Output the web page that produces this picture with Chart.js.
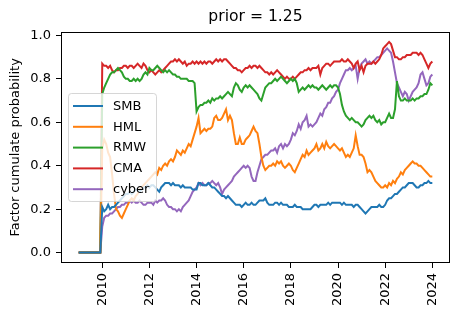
<!DOCTYPE html>
<html><head><meta charset="utf-8">
<script src="https://cdn.jsdelivr.net/npm/chart.js@4"></script>
<style>html,body{margin:0;padding:0;background:#fff}canvas{display:block}</style>
</head><body>
<canvas id="c" width="458" height="318"></canvas>
<script>
const titleText = 'prior = 1.25';
const yLabel = 'Factor cumulate probability';
const seriesNames = ['SMB', 'HML', 'RMW', 'CMA', 'cyber'];
const seriesColors = ['#1f77b4', '#ff7f0e', '#2ca02c', '#d62728', '#9467bd'];
const xTickYears = [2010, 2012, 2014, 2016, 2018, 2020, 2022, 2024];
const yTickValues = [0, 0.2, 0.4, 0.6, 0.8, 1.0];
const firstYear = 2009, lastYear = 2024, lastMonth = 1;

// monthly values 2009-01 .. 2024-01
const smb = [
 0,0,0,0,0,0,0,0,0,0,0,0,
 0.21,0.19,0.20,0.22,0.20,0.21,0.21,0.22,0.23,0.24,0.25,0.26,
 0.27,0.27,0.28,0.27,0.28,0.29,0.29,0.28,0.29,0.30,0.30,0.31,
 0.30,0.31,0.31,0.30,0.29,0.28,0.30,0.31,0.32,0.32,0.32,0.31,
 0.32,0.31,0.31,0.31,0.30,0.31,0.30,0.30,0.30,0.30,0.29,0.29,
 0.29,0.32,0.32,0.31,0.31,0.31,0.32,0.31,0.30,0.30,0.29,0.28,
 0.27,0.26,0.26,0.25,0.26,0.25,0.24,0.23,0.22,0.22,0.22,0.21,
 0.22,0.23,0.22,0.22,0.23,0.22,0.22,0.23,0.24,0.24,0.24,0.25,
 0.23,0.22,0.22,0.22,0.23,0.23,0.22,0.23,0.22,0.22,0.22,0.21,
 0.21,0.21,0.22,0.21,0.21,0.21,0.20,0.20,0.20,0.20,0.20,0.21,
 0.22,0.22,0.21,0.22,0.22,0.22,0.22,0.23,0.22,0.23,0.23,0.23,
 0.23,0.23,0.22,0.23,0.22,0.22,0.22,0.22,0.21,0.22,0.22,0.21,
 0.20,0.19,0.18,0.19,0.20,0.21,0.21,0.21,0.21,0.22,0.21,0.21,
 0.22,0.24,0.25,0.25,0.26,0.27,0.27,0.28,0.29,0.30,0.30,0.31,
 0.32,0.32,0.32,0.31,0.30,0.30,0.31,0.31,0.32,0.32,0.33,0.32,
 0.32
];
const hml = [
 0,0,0,0,0,0,0,0,0,0,0,0,
 0.48,0.52,0.50,0.46,0.44,0.36,0.27,0.20,0.19,0.17,0.16,0.18,
 0.20,0.22,0.24,0.25,0.24,0.26,0.27,0.29,0.30,0.31,0.32,0.33,
 0.34,0.35,0.36,0.37,0.36,0.39,0.38,0.40,0.41,0.40,0.42,0.43,
 0.42,0.44,0.47,0.46,0.45,0.47,0.46,0.48,0.50,0.49,0.52,0.55,
 0.58,0.62,0.55,0.56,0.57,0.56,0.57,0.57,0.58,0.62,0.63,0.61,
 0.61,0.62,0.64,0.66,0.61,0.63,0.61,0.55,0.50,0.50,0.53,0.50,
 0.50,0.52,0.53,0.54,0.56,0.58,0.56,0.55,0.50,0.44,0.40,0.38,
 0.39,0.40,0.40,0.41,0.40,0.42,0.41,0.42,0.40,0.39,0.40,0.41,
 0.40,0.38,0.37,0.39,0.41,0.43,0.45,0.44,0.47,0.45,0.46,0.47,
 0.48,0.50,0.47,0.48,0.50,0.48,0.51,0.49,0.48,0.49,0.50,0.49,
 0.48,0.47,0.48,0.46,0.44,0.45,0.44,0.46,0.48,0.54,0.49,0.45,
 0.45,0.44,0.41,0.37,0.38,0.37,0.35,0.33,0.32,0.31,0.30,0.30,
 0.31,0.30,0.32,0.31,0.33,0.32,0.34,0.35,0.37,0.36,0.38,0.39,
 0.40,0.41,0.42,0.41,0.41,0.40,0.40,0.39,0.38,0.37,0.36,0.35,
 0.35
];
const rmw = [
 0,0,0,0,0,0,0,0,0,0,0,0,
 0.73,0.76,0.78,0.80,0.82,0.83,0.83,0.84,0.85,0.84,0.83,0.81,
 0.80,0.80,0.79,0.79,0.80,0.79,0.80,0.79,0.80,0.82,0.83,0.82,
 0.85,0.84,0.84,0.85,0.86,0.85,0.84,0.83,0.84,0.83,0.84,0.83,
 0.82,0.82,0.81,0.81,0.80,0.80,0.80,0.80,0.79,0.79,0.79,0.78,
 0.65,0.67,0.68,0.68,0.69,0.69,0.70,0.69,0.71,0.70,0.71,0.71,
 0.72,0.71,0.72,0.73,0.74,0.73,0.72,0.76,0.78,0.77,0.75,0.74,
 0.76,0.77,0.76,0.77,0.76,0.75,0.74,0.73,0.71,0.70,0.73,0.76,
 0.77,0.78,0.78,0.79,0.80,0.79,0.80,0.81,0.80,0.79,0.78,0.79,
 0.80,0.79,0.80,0.78,0.74,0.75,0.76,0.75,0.76,0.77,0.76,0.77,
 0.76,0.76,0.75,0.76,0.77,0.76,0.75,0.76,0.77,0.76,0.77,0.77,
 0.76,0.73,0.68,0.65,0.63,0.62,0.61,0.62,0.61,0.60,0.60,0.59,
 0.58,0.59,0.61,0.62,0.63,0.62,0.63,0.61,0.60,0.61,0.59,0.60,
 0.60,0.62,0.64,0.62,0.62,0.66,0.79,0.72,0.70,0.70,0.71,0.70,
 0.70,0.70,0.71,0.70,0.71,0.71,0.72,0.72,0.73,0.73,0.75,0.78,
 0.77
];
const cma = [
 0,0,0,0,0,0,0,0,0,0,0,0,
 0.87,0.86,0.86,0.85,0.86,0.84,0.83,0.84,0.84,0.85,0.85,0.86,
 0.86,0.85,0.86,0.86,0.85,0.86,0.87,0.86,0.85,0.87,0.86,0.84,
 0.83,0.84,0.83,0.82,0.83,0.84,0.83,0.84,0.85,0.86,0.87,0.88,
 0.88,0.89,0.88,0.89,0.88,0.87,0.88,0.86,0.87,0.87,0.88,0.87,
 0.88,0.87,0.88,0.87,0.88,0.87,0.88,0.88,0.87,0.88,0.89,0.88,
 0.89,0.88,0.89,0.89,0.88,0.87,0.86,0.85,0.85,0.84,0.84,0.83,
 0.84,0.85,0.85,0.86,0.85,0.86,0.86,0.85,0.86,0.85,0.84,0.83,
 0.83,0.82,0.83,0.82,0.83,0.84,0.83,0.82,0.81,0.80,0.81,0.80,
 0.80,0.81,0.80,0.81,0.82,0.83,0.83,0.84,0.84,0.85,0.84,0.85,
 0.85,0.85,0.86,0.82,0.85,0.86,0.87,0.87,0.86,0.87,0.88,0.88,
 0.88,0.88,0.89,0.88,0.88,0.89,0.88,0.87,0.85,0.87,0.88,0.84,
 0.86,0.83,0.86,0.87,0.87,0.87,0.88,0.87,0.88,0.89,0.91,0.94,
 0.95,0.96,0.97,0.96,0.93,0.90,0.90,0.89,0.89,0.90,0.90,0.91,
 0.91,0.91,0.92,0.92,0.92,0.91,0.92,0.91,0.89,0.87,0.85,0.87,
 0.88
];
const cyber = [
 0,0,0,0,0,0,0,0,0,0,0,0,
 0.12,0.16,0.17,0.17,0.18,0.18,0.19,0.20,0.21,0.21,0.22,0.22,
 0.23,0.23,0.24,0.23,0.24,0.23,0.23,0.24,0.23,0.22,0.22,0.23,
 0.23,0.23,0.22,0.24,0.23,0.24,0.24,0.25,0.24,0.22,0.21,0.21,
 0.20,0.20,0.19,0.20,0.19,0.21,0.22,0.23,0.24,0.26,0.28,0.29,
 0.30,0.32,0.31,0.32,0.31,0.31,0.32,0.32,0.33,0.32,0.31,0.32,
 0.30,0.27,0.29,0.30,0.31,0.32,0.33,0.35,0.36,0.37,0.38,0.39,
 0.40,0.39,0.40,0.39,0.35,0.33,0.33,0.37,0.40,0.43,0.44,0.45,
 0.45,0.46,0.47,0.47,0.48,0.46,0.49,0.50,0.48,0.50,0.49,0.50,
 0.52,0.55,0.54,0.56,0.59,0.57,0.60,0.61,0.63,0.58,0.59,0.58,
 0.59,0.60,0.62,0.64,0.63,0.66,0.67,0.69,0.69,0.71,0.72,0.74,
 0.75,0.78,0.80,0.82,0.84,0.84,0.85,0.84,0.85,0.86,0.80,0.85,
 0.87,0.88,0.89,0.87,0.88,0.87,0.88,0.89,0.90,0.90,0.91,0.92,
 0.93,0.94,0.93,0.92,0.88,0.83,0.78,0.76,0.74,0.72,0.74,0.73,
 0.70,0.72,0.74,0.75,0.76,0.78,0.82,0.83,0.80,0.77,0.78,0.81,
 0.82
];
const seriesValues = [smb, hml, rmw, cma, cyber];

// month positions (decimal years)
const monthX = [];
for (let y = firstYear; y <= lastYear; y++) {
  for (let m = 1; m <= 12; m++) {
    if (y === lastYear && m > lastMonth) break;
    monthX.push(y + (m - 1) / 12);
  }
}

const FONT = 'DejaVu Sans';

const framePlugin = {
  id: 'frame',
  afterDatasetsDraw(chart) {
    const {ctx, chartArea: a} = chart;
    ctx.save();
    ctx.strokeStyle = '#000';
    ctx.lineWidth = 1;
    ctx.strokeRect(Math.round(a.left) + 0.5, Math.round(a.top) + 0.5,
                   Math.round(a.right - a.left) - 1, Math.round(a.bottom - a.top) - 1);
    ctx.restore();
  }
};

const legendPlugin = {
  id: 'boxLegend',
  afterDraw(chart) {
    const ctx = chart.ctx;
    const bx = 68.5, by = 93.5, bw = 88, bh = 108, r = 3;
    ctx.save();
    ctx.beginPath();
    ctx.moveTo(bx + r, by);
    ctx.lineTo(bx + bw - r, by);
    ctx.quadraticCurveTo(bx + bw, by, bx + bw, by + r);
    ctx.lineTo(bx + bw, by + bh - r);
    ctx.quadraticCurveTo(bx + bw, by + bh, bx + bw - r, by + bh);
    ctx.lineTo(bx + r, by + bh);
    ctx.quadraticCurveTo(bx, by + bh, bx, by + bh - r);
    ctx.lineTo(bx, by + r);
    ctx.quadraticCurveTo(bx, by, bx + r, by);
    ctx.closePath();
    ctx.fillStyle = 'rgba(255,255,255,0.8)';
    ctx.fill();
    ctx.strokeStyle = 'rgba(204,204,204,0.8)';
    ctx.lineWidth = 1;
    ctx.stroke();
    ctx.font = '13px "' + FONT + '"';
    ctx.textBaseline = 'middle';
    ctx.textAlign = 'left';
    chart.data.datasets.forEach((ds, i) => {
      const yy = 106 + i * 20.8;
      ctx.strokeStyle = ds.borderColor;
      ctx.lineWidth = 2;
      ctx.beginPath();
      ctx.moveTo(73, yy);
      ctx.lineTo(103, yy);
      ctx.stroke();
      ctx.fillStyle = '#000';
      ctx.fillText(ds.label, 113, yy + 0.5);
    });
    ctx.restore();
  }
};

new Chart(document.getElementById('c').getContext('2d'), {
  type: 'line',
  data: {
    datasets: seriesNames.map((name, i) => ({
      label: name,
      data: monthX.map((x, j) => ({x: x, y: seriesValues[i][j]})),
      borderColor: seriesColors[i],
      backgroundColor: seriesColors[i],
      borderWidth: 2,
      pointRadius: 0,
      fill: false,
      tension: 0
    }))
  },
  options: {
    responsive: false,
    animation: false,
    devicePixelRatio: 1,
    layout: {padding: {left: 0, right: 8, top: 0, bottom: 0}},
    plugins: {
      legend: {display: false},
      tooltip: {enabled: false},
      title: {
        display: true, text: titleText, color: '#000', fullSize: false,
        font: {family: FONT, size: 15.6, weight: 'normal'},
        padding: {top: 8, bottom: 5}
      }
    },
    scales: {
      x: {
        type: 'linear', min: 2008.25, max: 2024.75,
        afterBuildTicks: s => { s.ticks = xTickYears.map(v => ({value: v})); },
        afterFit: s => { s.height = 55; },
        ticks: {
          autoSkip: false, maxRotation: 90, minRotation: 90,
          callback: v => String(v), color: '#000', padding: 5,
          font: {family: FONT, size: 13}
        },
        grid: {drawOnChartArea: false, drawTicks: true, tickLength: 5, tickColor: '#000', tickWidth: 1},
        border: {display: false}
      },
      y: {
        min: -0.048, max: 1.017,
        afterBuildTicks: s => { s.ticks = yTickValues.map(v => ({value: v})); },
        afterFit: s => { s.width = 61; },
        ticks: {
          callback: v => Number(v).toFixed(1), color: '#000', padding: 5,
          font: {family: FONT, size: 13}
        },
        grid: {drawOnChartArea: false, drawTicks: true, tickLength: 5, tickColor: '#000', tickWidth: 1},
        border: {display: false},
        title: {
          display: true, text: yLabel, color: '#000',
          font: {family: FONT, size: 13},
          padding: {top: 8, bottom: 0}
        }
      }
    }
  },
  plugins: [framePlugin, legendPlugin]
});
</script>
</body></html>
